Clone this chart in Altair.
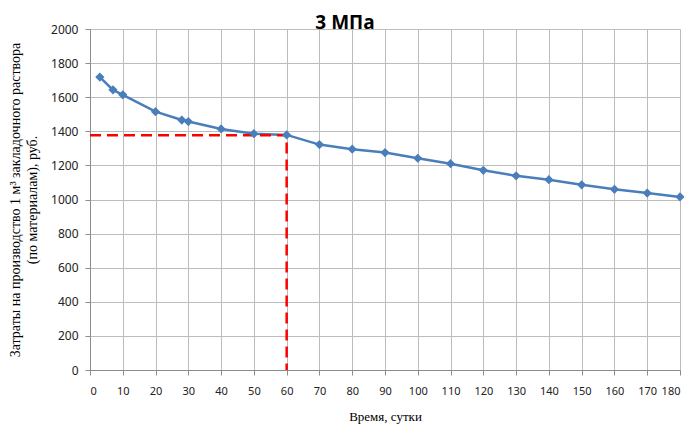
import altair as alt
import pandas as pd

days = [3, 7, 10, 20, 28, 30, 40, 50, 60, 70, 80, 90, 100, 110, 120, 130, 140, 150, 160, 170, 180]
cost = [1718, 1643, 1614, 1515, 1466, 1457, 1414, 1386, 1379, 1322, 1295, 1275, 1242, 1210, 1171, 1139, 1116, 1086, 1060, 1038, 1015]

ref_x = [0, 60, 60]
ref_y = [1377, 1377, 0]
ref_order = [0, 1, 2]

x_ticks = list(range(0, 181, 10))
y_ticks = list(range(0, 2001, 200))

df = pd.DataFrame({"x": days, "y": cost})
ref = pd.DataFrame({"x": ref_x, "y": ref_y, "o": ref_order})

xs = alt.Scale(domain=[0, 180], nice=False, zero=False)
ys = alt.Scale(domain=[0, 2000], nice=False)

x_axis = alt.Axis(values=x_ticks, format="d", labelOverlap=False, title="Время, сутки", grid=True,
                  gridColor="#bcbcbc", domainColor="#8c8c8c", tickColor="#8c8c8c", tickSize=5,
                  labelFont="Noto Sans", labelFontSize=11, labelColor="#222222", labelPadding=10,
                  titleFont="Liberation Serif", titleFontSize=13, titleFontWeight="normal",
                  titleColor="#000000", titlePadding=14)
y_axis = alt.Axis(values=y_ticks, format="d", labelOverlap=False,
                  title=["Затраты на производство 1 м³ закладочного раствора", "(по материалам), руб."],
                  grid=True, gridColor="#bcbcbc",
                  domainColor="#8c8c8c", tickColor="#8c8c8c", tickSize=5,
                  labelFont="Noto Sans", labelFontSize=12, labelColor="#222222", labelPadding=7,
                  titleFont="Liberation Serif", titleFontSize=14, titleFontWeight="normal",
                  titleColor="#000000", titlePadding=11, titleLineHeight=17)

X = alt.X("x:Q", scale=xs, axis=x_axis)
Y = alt.Y("y:Q", scale=ys, axis=y_axis)

base = alt.Chart(df)
line = base.mark_line(color="#4a7ebb", strokeWidth=2.5).encode(x=X, y=Y)
pts = base.mark_point(shape="diamond", filled=True, size=85, color="#4a7ebb", opacity=1).encode(x=X, y=Y)
dash = alt.Chart(ref).mark_line(color="#ff0000", strokeWidth=2.5, strokeDash=[11, 6]).encode(
    x=X, y=Y, order="o:Q",
)

chart = alt.layer(line, dash, pts).properties(
    width=590, height=341,
    title=alt.TitleParams("3 МПа", font="Open Sans", fontSize=19, fontWeight="bold",
                          color="#000000", anchor="middle", dx=-40, offset=-10),
    autosize=alt.AutoSizeParams(type="none"),
    padding={"left": 82, "top": 21, "right": 4, "bottom": 60},
).configure_view(stroke=None).configure(background="white")

chart.save("out.html", embed_options={"renderer": "svg", "actions": False})
